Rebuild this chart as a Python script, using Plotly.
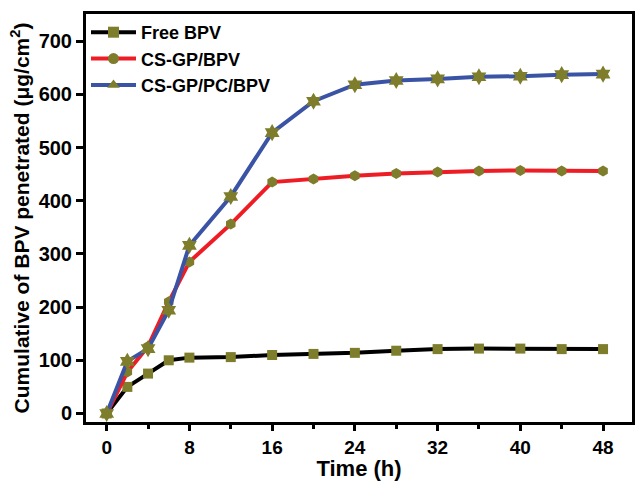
import plotly.graph_objects as go

time_h = [0, 2, 4, 6, 8, 12, 16, 20, 24, 28, 32, 36, 40, 44, 48]
free_bpv = [0, 50, 75, 100, 105, 106, 110, 112, 114, 118, 121, 122, 122, 121, 121]
cs_gp_bpv = [0, 78, 126, 210, 285, 356, 435, 441, 447, 451, 454, 456, 457, 456, 456]
cs_gp_pc_bpv = [0, 98, 122, 194, 316, 408, 528, 587, 618, 626, 629, 633, 634, 637, 638]

x_ticks = [0, 8, 16, 24, 32, 40, 48]
y_ticks = [0, 100, 200, 300, 400, 500, 600, 700]

olive = "#7d7d2c"
font = "Liberation Sans, Arial, sans-serif"

fig = go.Figure()
series = [
    ("Free BPV", free_bpv, "#000000", "square", "square", 10),
    ("CS-GP/BPV", cs_gp_bpv, "#ee1c24", "hexagon", "circle", 11),
    ("CS-GP/PC/BPV", cs_gp_pc_bpv, "#3a53a4", "hexagram", "triangle-up", 13),
]
for name, vals, col, sym, legsym, size in series:
    fig.add_trace(go.Scatter(
        x=time_h, y=vals, mode="lines+markers", name=name, showlegend=False,
        line=dict(color=col, width=4),
        marker=dict(symbol=sym, size=size, color=olive, line=dict(width=0)),
    ))
for name, vals, col, sym, legsym, size in series:
    fig.add_trace(go.Scatter(
        x=[None], y=[None], mode="lines+markers", name=name,
        line=dict(color=col, width=4),
        marker=dict(symbol=legsym, size=11, color=olive, line=dict(width=0)),
    ))

fig.update_layout(
    width=637, height=481,
    margin=dict(l=86, r=2, t=14, b=59),
    paper_bgcolor="white", plot_bgcolor="white",
    font=dict(family=font, color="black", size=16),
    legend=dict(x=0.0, y=1.0, xanchor="left", yanchor="top",
                font=dict(size=18, family=font, weight="bold"),
                bgcolor="rgba(0,0,0,0)", tracegroupgap=0, itemwidth=45),
    xaxis=dict(
        range=[-2, 50.8], tickvals=x_ticks, ticktext=[str(v) for v in x_ticks],
        ticks="outside", ticklen=6, tickwidth=3, tickcolor="black",
        minor=dict(dtick=4, tick0=0, ticks="outside", ticklen=4, tickwidth=3, tickcolor="black"),
        showline=True, linewidth=3, linecolor="black", mirror=True,
        showgrid=False, zeroline=False,
        tickfont=dict(size=19, family=font, weight="bold"),
        title=dict(text="<b>Time (h)</b>", font=dict(size=22, family=font), standoff=0),
    ),
    yaxis=dict(
        range=[-16, 751], tickvals=y_ticks, ticktext=[str(v) for v in y_ticks],
        ticks="outside", ticklen=7, tickwidth=3, tickcolor="black",
        showline=True, linewidth=3, linecolor="black", mirror=True,
        showgrid=False, zeroline=False,
        tickfont=dict(size=20, family=font, weight="bold"),
        title=dict(text="<b>Cumulative of BPV penetrated (μg/cm<sup>2</sup>)</b>",
                   font=dict(size=21, family=font), standoff=4),
    ),
)

fig.write_html("out.html")
